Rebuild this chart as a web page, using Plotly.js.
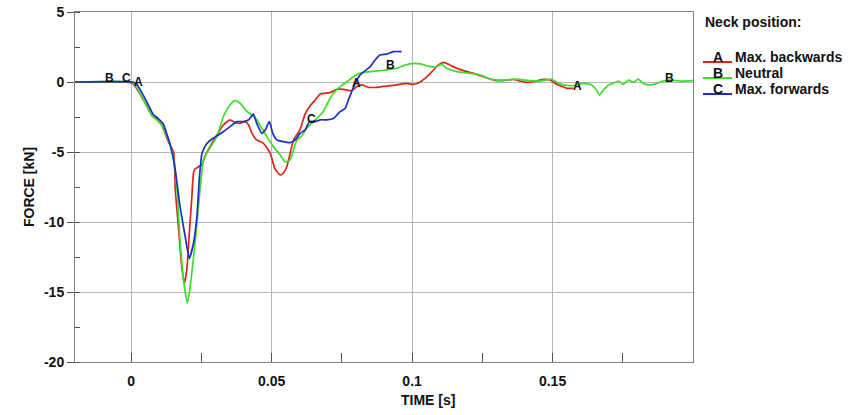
<!DOCTYPE html>
<html><head><meta charset="utf-8">
<script src="https://cdn.plot.ly/plotly-3.0.1.min.js"></script>
<style>html,body{margin:0;padding:0;background:#fff}</style>
</head><body><div id="chart" style="width:849px;height:415px"></div>
<script>
// Series A: Max. backwards (red)
const redT = [-0.02, -0.003, 0.0005, 0.0014, 0.005, 0.0074, 0.0091, 0.0109, 0.0133, 0.0151, 0.0157, 0.0168, 0.0180, 0.0189, 0.0198, 0.0207, 0.0216, 0.0222, 0.0228, 0.0240, 0.0252, 0.0263, 0.0281, 0.0305, 0.0328, 0.0352, 0.0370, 0.0388, 0.0406, 0.0418, 0.0430, 0.0447, 0.0471, 0.0495, 0.0512, 0.0530, 0.0542, 0.0554, 0.0566, 0.0578, 0.0601, 0.0619, 0.0637, 0.0655, 0.0673, 0.0708, 0.0732, 0.0756, 0.0785, 0.0803, 0.0821, 0.0845, 0.0875, 0.0910, 0.0946, 0.0981, 0.1000, 0.1024, 0.1046, 0.1071, 0.1093, 0.1112, 0.1135, 0.1159, 0.1183, 0.1218, 0.1254, 0.1290, 0.1325, 0.1361, 0.1384, 0.1408, 0.1432, 0.1468, 0.1491, 0.1515, 0.1527, 0.1551, 0.1574];
const redF = [0, 0, -0.1, -0.3, -1.5, -2.4, -2.66, -3.1, -4.3, -5.0, -7.7, -10.3, -13.2, -14.4, -13.4, -10.8, -8.2, -6.5, -6.2, -6.05, -5.9, -5.3, -4.6, -3.8, -3.07, -2.7, -2.9, -2.95, -2.83, -3.07, -3.67, -4.14, -4.38, -5.1, -6.2, -6.64, -6.5, -6.05, -5.1, -4.14, -3.4, -2.3, -1.7, -1.29, -0.86, -0.76, -0.52, -0.52, -0.62, -0.33, -0.21, -0.38, -0.38, -0.29, -0.21, -0.1, -0.17, -0.05, 0.26, 0.74, 1.21, 1.4, 1.21, 0.98, 0.81, 0.62, 0.38, 0.14, 0.1, 0.19, 0.07, -0.02, 0.02, 0.19, 0.14, -0.17, -0.26, -0.45, -0.45];

// Series B: Neutral (green)
const greenT = [-0.02, 0, 0.0014, 0.005, 0.0074, 0.0091, 0.0109, 0.0133, 0.0151, 0.0163, 0.0174, 0.0186, 0.0200, 0.0210, 0.0222, 0.0234, 0.0246, 0.0257, 0.0269, 0.0281, 0.0305, 0.0328, 0.0352, 0.0370, 0.0388, 0.0412, 0.0430, 0.0447, 0.0465, 0.0483, 0.0506, 0.0530, 0.0548, 0.0566, 0.0578, 0.0590, 0.0610, 0.0625, 0.0655, 0.0673, 0.0684, 0.0702, 0.0720, 0.0744, 0.0768, 0.0791, 0.0821, 0.0851, 0.0886, 0.0910, 0.0946, 0.0975, 0.1005, 0.1028, 0.1064, 0.1088, 0.1106, 0.1123, 0.1159, 0.1206, 0.1242, 0.1278, 0.1325, 0.1373, 0.1408, 0.1456, 0.1497, 0.1515, 0.1538, 0.1574, 0.1610, 0.1639, 0.1657, 0.1667, 0.1681, 0.1699, 0.1716, 0.1734, 0.1752, 0.1770, 0.1788, 0.1805, 0.1823, 0.1847, 0.1871, 0.1894, 0.1918, 0.1954, 0.2];
const greenF = [0, 0, -0.2, -1.5, -2.4, -2.7, -3.1, -4.2, -5.4, -7.7, -11.3, -14.1, -15.8, -14.6, -12.5, -10.1, -7.5, -5.6, -5.1, -4.7, -3.9, -2.48, -1.64, -1.33, -1.52, -2.1, -2.36, -2.7, -3.3, -3.9, -4.6, -5.2, -5.7, -5.57, -4.86, -4.14, -3.8, -3.3, -2.7, -2.36, -2.1, -1.4, -0.81, -0.33, 0.02, 0.38, 0.67, 0.74, 0.81, 0.86, 0.98, 1.21, 1.33, 1.29, 1.1, 1.1, 1.26, 0.98, 0.74, 0.62, 0.5, 0.21, 0.14, 0.21, 0.12, 0.07, 0.21, -0.02, -0.21, -0.26, -0.1, -0.21, -0.57, -0.93, -0.57, -0.21, -0.1, 0.07, -0.17, 0.14, -0.02, 0.21, -0.1, -0.21, -0.1, 0.07, 0.14, 0.07, 0.1];

// Series C: Max. forwards (blue)
const blueT = [-0.02, 0.0005, 0.0018, 0.0055, 0.0078, 0.0096, 0.0114, 0.0139, 0.0157, 0.0174, 0.0192, 0.0207, 0.0222, 0.0234, 0.0243, 0.0252, 0.0263, 0.0269, 0.0293, 0.0328, 0.0352, 0.0376, 0.0400, 0.0418, 0.0435, 0.0447, 0.0465, 0.0477, 0.0492, 0.0504, 0.0519, 0.0542, 0.0566, 0.0584, 0.0601, 0.0619, 0.0635, 0.0655, 0.0673, 0.0696, 0.0720, 0.0744, 0.0762, 0.0773, 0.0785, 0.0797, 0.0815, 0.0833, 0.0851, 0.0868, 0.0886, 0.0910, 0.0933, 0.0963];
const blueF = [0, 0, -0.1, -1.4, -2.3, -2.6, -3.0, -4.5, -6.3, -8.9, -11.0, -12.6, -11.5, -9.6, -6.8, -5.1, -4.6, -4.4, -4.0, -3.55, -3.19, -2.83, -2.83, -2.7, -2.3, -2.95, -3.67, -3.43, -2.83, -3.67, -4.14, -4.26, -4.33, -4.14, -3.67, -3.43, -2.83, -2.83, -2.7, -2.7, -2.6, -2.12, -1.88, -1.29, -0.69, -0.1, 0.5, 0.81, 1.1, 1.57, 1.93, 2.0, 2.17, 2.17];

// Legend
const legendTitle = "Neck position:";
const seriesLetters = ["A", "B", "C"];
const seriesNames = ["Max. backwards", "Neutral", "Max. forwards"];
const seriesColors = ["#dd2418", "#3ddc2e", "#1b2fc4"];

// Letter markers on the curves
const markT = [-0.0076, -0.0015, 0.0025, 0.0643, 0.0803, 0.0922, 0.1588, 0.1918];
const markF = [0.27, 0.26, 0.0, -2.64, -0.05, 1.21, -0.26, 0.26];
const markText = ["B", "C", "A", "C", "A", "B", "A", "B"];

// Axis ticks
const xTickVals = [0, 0.05, 0.1, 0.15];
const xTickText = ["0", "0.05", "0.1", "0.15"];
const yTickVals = [5, 0, -5, -10, -15, -20];
const yTickText = ["5", "0", "-5", "-10", "-15", "-20"];

const FONT = "Liberation Sans, Arial, sans-serif";
const seriesT = [redT, greenT, blueT];
const seriesF = [redF, greenF, blueF];

const traces = seriesT.map((t, i) => ({
  x: t, y: seriesF[i], type: "scatter", mode: "lines",
  line: {color: seriesColors[i], width: 1.7, shape: "spline", smoothing: 0.5},
  showlegend: false, hoverinfo: "skip"
}));

const L = 75, R = 693, T = 12, B = 362, W = 849, H = 415;
const px = v => (v - L) / (R - L);
const py = v => (B - v) / (B - T);

const annotations = markText.map((s, i) => ({
  x: markT[i], y: markF[i], xref: "x", yref: "y", text: "<b>" + s + "</b>",
  showarrow: false, font: {family: FONT, size: 12, color: "#111"},
  xanchor: "center", yanchor: "middle"
}));

annotations.push({
  x: px(703), y: py(22), xref: "paper", yref: "paper", text: "<b>" + legendTitle + "</b>",
  showarrow: false, xanchor: "left", yanchor: "middle",
  font: {family: FONT, size: 14, color: "#111"}
});

const shapes = [];
const rowY = [57, 73, 89];
seriesNames.forEach((n, i) => {
  annotations.push({
    x: px(718), y: py(rowY[i]), xref: "paper", yref: "paper", text: "<b>" + seriesLetters[i] + "</b>",
    showarrow: false, xanchor: "center", yanchor: "middle",
    font: {family: FONT, size: 14, color: "#111"}
  });
  annotations.push({
    x: px(733), y: py(rowY[i]), xref: "paper", yref: "paper", text: "<b>" + n + "</b>",
    showarrow: false, xanchor: "left", yanchor: "middle",
    font: {family: FONT, size: 14, color: "#111"}
  });
  shapes.push({
    type: "line", xref: "paper", yref: "paper",
    x0: px(703), x1: px(732), y0: py(rowY[i] + 5), y1: py(rowY[i] + 5),
    line: {color: seriesColors[i], width: 2}
  });
});

annotations.push({
  x: px(428), y: py(400), xref: "paper", yref: "paper", text: "<b>TIME [s]</b>",
  showarrow: false, xanchor: "center", yanchor: "middle",
  font: {family: FONT, size: 14, color: "#111"}
});

const layout = {
  width: W, height: H,
  margin: {l: L, r: W - R, t: T, b: H - B, pad: 0},
  paper_bgcolor: "#fff", plot_bgcolor: "#fff",
  font: {family: FONT, size: 13, color: "#111"},
  showlegend: false,
  xaxis: {
    range: [-0.02, 0.2], tickvals: xTickVals, ticktext: xTickText,
    ticks: "inside", ticklen: 9, tickcolor: "#505050", tickwidth: 1,
    showgrid: true, gridcolor: "#b4b4b4", gridwidth: 1, zeroline: false,
    showline: true, linecolor: "#808080", linewidth: 1, mirror: true,
    ticklabelstandoff: 6,
    tickfont: {family: FONT, size: 14, color: "#111", weight: "bold"},
    minor: {dtick: 0.025, tick0: 0, ticks: "inside", ticklen: 9, tickcolor: "#505050", showgrid: false}
  },
  yaxis: {
    range: [-20, 5], tickvals: yTickVals, ticktext: yTickText,
    ticks: "outside", ticklen: 7, tickcolor: "#505050", tickwidth: 1,
    showgrid: true, gridcolor: "#b4b4b4", gridwidth: 1, zeroline: false,
    showline: true, linecolor: "#808080", linewidth: 1, mirror: true,
    tickfont: {family: FONT, size: 14, color: "#111", weight: "bold"},
    minor: {dtick: 2.5, tick0: 0, ticks: "inside", ticklen: 5, tickcolor: "#505050", showgrid: false},
    title: {text: "<b>FORCE [kN]</b>", font: {family: FONT, size: 14, color: "#111"}, standoff: 6}
  },
  annotations: annotations,
  shapes: shapes
};

Plotly.newPlot("chart", traces, layout, {staticPlot: true, displayModeBar: false});
</script>
</body></html>
